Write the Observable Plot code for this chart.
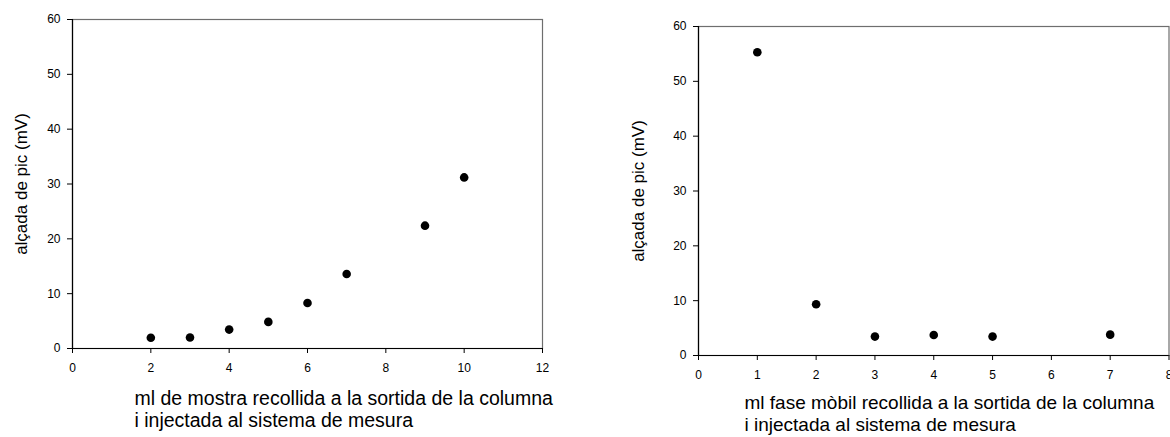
<!DOCTYPE html>
<html>
<head>
<meta charset="utf-8">
<script src="https://cdn.jsdelivr.net/npm/d3@7"></script>
<script src="https://cdn.jsdelivr.net/npm/@observablehq/plot@0.6"></script>
<style>
  html, body { margin: 0; padding: 0; background: #fff; }
  #chart { position: relative; width: 1170px; height: 437px; overflow: hidden; background: #fff; }
  #chart svg { position: absolute; top: 0; }
</style>
</head>
<body>
<div id="chart"></div>
<script>
// Peak height (mV) against collected volume (ml)
const sampleMl = [2, 3, 4, 5, 6, 7, 9, 10];
const samplePeak = [1.95, 2.0, 3.45, 4.85, 8.3, 13.6, 22.4, 31.2];

const mobileMl = [1, 2, 3, 4, 5, 7];
const mobilePeak = [55.3, 9.35, 3.45, 3.75, 3.45, 3.8];

const yTicks = [0, 10, 20, 30, 40, 50, 60];
const sampleTicks = [0, 2, 4, 6, 8, 10, 12];
const mobileTicks = [0, 1, 2, 3, 4, 5, 6, 7, 8];

const yTitle = "alçada de pic (mV)";
const sampleTitle = "ml de mostra recollida a la sortida de la columna\ni injectada al sistema de mesura";
const mobileTitle = "ml fase mòbil recollida a la sortida de la columna\ni injectada al sistema de mesura";

const FONT = "'Liberation Sans', Arial, Helvetica, sans-serif";

function panel(o) {
  const data = o.xs.map((x, i) => ({x, y: o.ys[i]}));
  const svg = Plot.plot({
    width: o.width,
    height: 437,
    marginLeft: o.marginLeft,
    marginRight: o.marginRight,
    marginTop: o.marginTop,
    marginBottom: o.marginBottom,
    style: {fontFamily: FONT, fontSize: "12px", color: "#000", background: "transparent", overflow: "visible"},
    x: {domain: [0, o.xMax]},
    y: {domain: [0, 60]},
    marks: [
      Plot.frame({stroke: "#6e6e6e", strokeWidth: 1.2}),
      Plot.ruleX([0], {stroke: "#000", strokeWidth: 1.2}),
      Plot.ruleY([0], {stroke: "#000", strokeWidth: 1.2}),
      Plot.axisX({ticks: o.xTicks, tickSize: 5, tickPadding: 10, label: null, fontSize: 12, stroke: "#000"}),
      Plot.axisY({ticks: yTicks, tickSize: 5, tickPadding: 7, label: null, fontSize: 12, stroke: "#000"}),
      Plot.dot(data, {x: "x", y: "y", r: 4.3, fill: "#000", stroke: "none"}),
      Plot.text([yTitle], {
        text: d => d, frameAnchor: "left", rotate: -90, dx: o.yTitleDx,
        textAnchor: "middle", lineAnchor: "middle", fontSize: 17, fill: "#000"
      }),
      Plot.text([o.xTitle], {
        text: d => d, frameAnchor: "bottom-left", dx: o.xTitleDx, dy: o.xTitleDy,
        textAnchor: "start", lineAnchor: "top", fontSize: o.xTitleSize, lineHeight: 1.13, fill: "#000"
      })
    ]
  });
  svg.style.left = o.left + "px";
  return svg;
}

const chart = document.getElementById("chart");

chart.appendChild(panel({
  xs: sampleMl, ys: samplePeak, xMax: 12, xTicks: sampleTicks, xTitle: sampleTitle,
  left: 0, width: 552, marginLeft: 72, marginRight: 10, marginTop: 19, marginBottom: 89,
  yTitleDx: -51, xTitleDx: 62, xTitleDy: 41, xTitleSize: 19.5
}));

chart.appendChild(panel({
  xs: mobileMl, ys: mobilePeak, xMax: 8, xTicks: mobileTicks, xTitle: mobileTitle,
  left: 600, width: 570, marginLeft: 98, marginRight: 1.5, marginTop: 26, marginBottom: 82,
  yTitleDx: -60, xTitleDx: 46, xTitleDy: 38.5, xTitleSize: 19
}));
</script>
</body>
</html>
